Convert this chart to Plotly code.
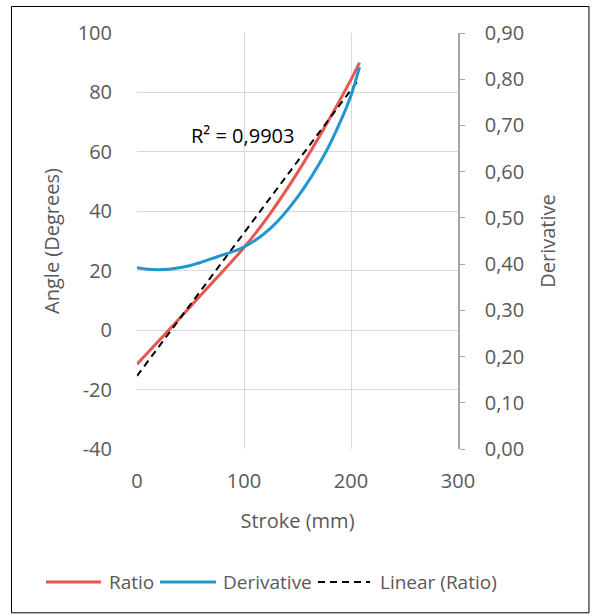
import plotly.graph_objects as go

# Data
stroke_ratio = [0, 25, 50, 75, 100, 125, 150, 175, 200, 208]
ratio_deg = [-11.5, -1.8, 8.0, 17.8, 27.8, 39.5, 53.0, 68.0, 84.3, 90.0]

stroke_deriv = [0, 10, 20, 30, 50, 75, 100, 125, 150, 175, 190, 200, 208]
derivative = [0.392, 0.389, 0.388, 0.389, 0.397, 0.416, 0.437, 0.478, 0.545, 0.636, 0.708, 0.765, 0.826]

trend_x = [0, 208]
trend_y = [-15.4, 84.7]

r2_text = "R² = 0,9903"
x_ticks = [0, 100, 200, 300]
y_ticks = [-40, -20, 0, 20, 40, 60, 80, 100]
y2_ticks = [0.0, 0.1, 0.2, 0.3, 0.4, 0.5, 0.6, 0.7, 0.8, 0.9]
series_names = ["Ratio", "Derivative", "Linear (Ratio)"]

FONT = "Open Sans"
GRAY = "#595959"
GRID = "#d9d9d9"
RED = "#E9554F"
BLUE = "#2196CF"
FS = 20
LFS = 19

fig = go.Figure()
fig.add_trace(go.Scatter(x=stroke_ratio, y=ratio_deg, name=series_names[0], mode="lines",
                         line=dict(color=RED, width=3, shape="spline")))
fig.add_trace(go.Scatter(x=stroke_deriv, y=derivative, name=series_names[1], mode="lines",
                         yaxis="y2", line=dict(color=BLUE, width=3, shape="spline")))
fig.add_trace(go.Scatter(x=trend_x, y=trend_y, name=series_names[2], mode="lines",
                         line=dict(color="black", width=2, dash="7px,5px")))

fig.add_annotation(x=99, y=65.6, text=r2_text, showarrow=False, xref="x", yref="y",
                   font=dict(family=FONT, size=FS, color="black"))

# outer border
fig.add_shape(type="rect", xref="paper", yref="paper",
              x0=-0.391, x1=1.408, y0=-0.3938, y1=1.0637,
              line=dict(color="black", width=1), layer="below")

# manual legend (single row, as in the reference)
leg_y = -0.3197
legend_items = [
    (series_names[0], RED, 3, "solid", -0.2835, -0.1121, -0.0935),
    (series_names[1], BLUE, 3, "solid", 0.0717, 0.2461, 0.2617),
    (series_names[2], "black", 2, "7px,5px", 0.5639, 0.7259, 0.7508),
]
for name, col, w, dash, lx0, lx1, tx in legend_items:
    fig.add_shape(type="line", xref="paper", yref="paper", x0=lx0, x1=lx1, y0=leg_y, y1=leg_y,
                  line=dict(color=col, width=w, dash=dash))
    fig.add_annotation(x=tx, y=leg_y, xref="paper", yref="paper", text=name, showarrow=False,
                       xanchor="left", yanchor="middle",
                       font=dict(family=FONT, size=LFS, color=GRAY))

fig.update_layout(
    width=592, height=614,
    margin=dict(l=137, r=134, t=33, b=165, autoexpand=False),
    paper_bgcolor="white", plot_bgcolor="white",
    separators=",.",
    font=dict(family=FONT, size=FS, color=GRAY),
    showlegend=False,
    xaxis=dict(range=[0, 300], tickvals=x_ticks, ticktext=[str(v) for v in x_ticks],
               showgrid=True, gridcolor=GRID, gridwidth=1.3, automargin=False,
               zeroline=False, showline=False, ticks="", ticklabelstandoff=18,
               title=dict(text="Stroke (mm)", standoff=20, font=dict(size=FS, color=GRAY))),
    yaxis=dict(range=[-40, 100], tickvals=y_ticks, ticktext=[str(v) for v in y_ticks],
               showgrid=True, gridcolor=GRID, gridwidth=1.3, automargin=False,
               zeroline=False, showline=False, ticks="", ticklabelstandoff=24,
               title=dict(text="Angle (Degrees)", standoff=12, font=dict(size=FS, color=GRAY))),
    yaxis2=dict(range=[0, 0.9], tickvals=y2_ticks, tickformat=".2f", overlaying="y", side="right",
                showgrid=False, zeroline=False, showline=True, linecolor="#a6a6a6", linewidth=1.5,
                automargin=False,
                ticks="outside", ticklen=5, tickcolor="#a6a6a6", ticklabelstandoff=16,
                title=dict(text="Derivative", standoff=18, font=dict(size=FS, color=GRAY))),
)

fig.write_html("out.html")
